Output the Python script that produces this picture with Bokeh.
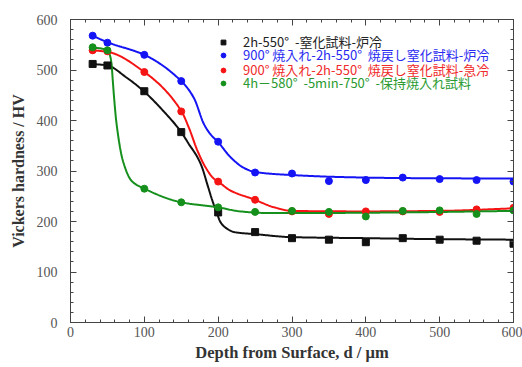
import numpy as np
from bokeh.plotting import figure
from bokeh.models import (Range1d, LinearAxis, Legend, LegendItem, SingleIntervalTicker,
                          ColumnDataSource)
from bokeh.embed import file_html
from bokeh.resources import INLINE

# ---- measured points ----
depth = [30, 50, 100, 150, 200, 250, 300, 350, 400, 450, 500, 550, 600]
black_hv = [512, 509, 458, 377, 218, 179, 167, 164, 159, 167, 164, 162, 156]
blue_hv = [568, 554, 530, 478, 358, 297, 295, 280, 282, 287, 284, 282, 279]
red_hv = [539, 537, 496, 418, 279, 243, 220, 215, 220, 220, 219, 224, 227]
green_hv = [545, 539, 265, 238, 228, 219, 221, 219, 210, 221, 222, 215, 222]

# ---- fitted curves ----
black_fit_x = [30, 50, 75, 100, 125, 150, 160, 172, 178, 185, 192, 198, 203, 209, 222, 250, 300, 400, 500, 600]
black_fit_hv = [512, 509, 486, 457, 420, 377, 354, 327, 308, 275, 242, 218, 199, 189, 179, 175, 169, 167, 165, 164]
blue_fit_x = [30, 50, 100, 150, 167, 181, 190, 200, 217, 235, 250, 300, 367, 450, 600]
blue_fit_hv = [568, 555, 530, 478, 445, 392, 372, 357, 327, 306, 298, 292, 288, 286, 285]
red_fit_x = [30, 50, 100, 150, 160, 172, 183, 194, 200, 217, 248, 276, 300, 400, 500, 600]
red_fit_hv = [539, 536, 496, 419, 387, 340, 307, 285, 279, 261, 244, 228, 221, 220, 221, 226]
green_fit_x = [30, 50, 55, 58, 62, 71, 83, 100, 150, 200, 230, 262, 350, 450, 600]
green_fit_hv = [545, 539, 520, 464, 398, 320, 280, 265, 238, 228, 220, 217, 217, 218, 221]

labels = ["2h-550° \u00a0-窒化試料-炉冷",
          "900° 焼入れ-2h-550° \u00a0焼戻し窒化試料-炉冷",
          "900° 焼入れ-2h-550° \u00a0焼戻し窒化試料-急冷",
          "4h－580° \u00a0-5min-750° \u00a0-保持焼入れ試料"]
colors = ["#111111", "#1414f5", "#f51414", "#16901c"]
text_colors = ["#222222", "#2a2af0", "#f02a2a", "#2a9a30"]
markers = ["square", "circle", "circle", "circle"]


def pchip(x, y, xn):
    x = np.asarray(x, float)
    y = np.asarray(y, float)
    h = np.diff(x)
    d = np.diff(y) / h
    n = len(x)
    m = np.zeros(n)
    for k in range(1, n - 1):
        if d[k - 1] * d[k] <= 0:
            m[k] = 0.0
        else:
            w1 = 2 * h[k] + h[k - 1]
            w2 = h[k] + 2 * h[k - 1]
            m[k] = (w1 + w2) / (w1 / d[k - 1] + w2 / d[k])
    m[0] = d[0]
    m[-1] = d[-1]
    idx = np.clip(np.searchsorted(x, xn) - 1, 0, n - 2)
    t = (xn - x[idx]) / h[idx]
    h00 = 2 * t**3 - 3 * t**2 + 1
    h10 = t**3 - 2 * t**2 + t
    h01 = -2 * t**3 + 3 * t**2
    h11 = t**3 - t**2
    return h00 * y[idx] + h10 * h[idx] * m[idx] + h01 * y[idx + 1] + h11 * h[idx] * m[idx + 1]


p = figure(width=522, height=367, output_backend="svg", toolbar_location=None,
           x_range=Range1d(0, 600), y_range=Range1d(0, 600),
           min_border_left=70, min_border_right=9, min_border_top=19, min_border_bottom=45,
           x_axis_label="Depth from Surface, d / μm",
           y_axis_label="Vickers hardness / HV")
p.xgrid.visible = False
p.ygrid.visible = False
p.outline_line_color = "#444444"
p.background_fill_color = "white"
p.border_fill_color = "white"

p.xaxis.ticker = SingleIntervalTicker(interval=100, num_minor_ticks=5)
p.yaxis.ticker = SingleIntervalTicker(interval=100, num_minor_ticks=5)

for ax in [p.xaxis[0], p.yaxis[0]]:
    ax.major_tick_in = 6
    ax.major_tick_out = 0
    ax.minor_tick_in = 3
    ax.minor_tick_out = 0
    ax.major_tick_line_color = "#444444"
    ax.minor_tick_line_color = "#444444"
    ax.axis_line_color = "#444444"
    ax.major_label_text_font = "Liberation Serif"
    ax.major_label_text_font_size = "14px"
    ax.major_label_text_color = "#555555"
    ax.axis_label_text_font = "Liberation Serif"
    ax.axis_label_text_font_style = "bold"
    ax.axis_label_text_color = "#333333"
p.xaxis.axis_label_text_font_size = "16.5px"
p.yaxis.axis_label_text_font_size = "16px"
p.xaxis.major_label_standoff = 4
p.xaxis.axis_label_standoff = 3
p.yaxis.major_label_standoff = 13
p.yaxis.axis_label_standoff = 7

for loc in ["above", "right"]:
    ax = LinearAxis(ticker=SingleIntervalTicker(interval=100, num_minor_ticks=5),
                    major_tick_in=6, major_tick_out=0, minor_tick_in=3, minor_tick_out=0,
                    major_tick_line_color="#444444", minor_tick_line_color="#444444",
                    axis_line_color="#444444", major_label_text_font_size="0px",
                    major_label_text_color=None, major_label_standoff=0)
    p.add_layout(ax, loc)

series = [(black_hv, black_fit_x, black_fit_hv),
          (blue_hv, blue_fit_x, blue_fit_hv),
          (red_hv, red_fit_x, red_fit_hv),
          (green_hv, green_fit_x, green_fit_hv)]

scatter_renderers = []
for i, (hv, fx, fy) in enumerate(series):
    xs = np.linspace(fx[0], fx[-1], 400)
    ys = pchip(fx, fy, xs)
    p.line(xs, ys, line_color=colors[i], line_width=2)
for i, (hv, fx, fy) in enumerate(series):
    src = ColumnDataSource(dict(x=depth, y=hv))
    r = p.scatter("x", "y", source=src, marker=markers[i], size=7,
                  fill_color=colors[i], line_color=colors[i])
    scatter_renderers.append(r)

# legends (one per item so each label has its own colour)
row_bottoms = [271, 258, 243, 230]
for i, r in enumerate(scatter_renderers):
    leg = Legend(items=[LegendItem(label=labels[i], renderers=[r])],
                 location=(147, row_bottoms[i]),
                 border_line_color=None, background_fill_alpha=0,
                 padding=0, margin=0, spacing=0,
                 glyph_width=12, glyph_height=14, label_height=14,
                 label_standoff=14,
                 label_text_font="Noto Sans CJK JP", label_text_font_size="13px",
                 label_text_color=text_colors[i])
    p.add_layout(leg, "center")

open("out.html", "w").write(file_html(p, INLINE))
